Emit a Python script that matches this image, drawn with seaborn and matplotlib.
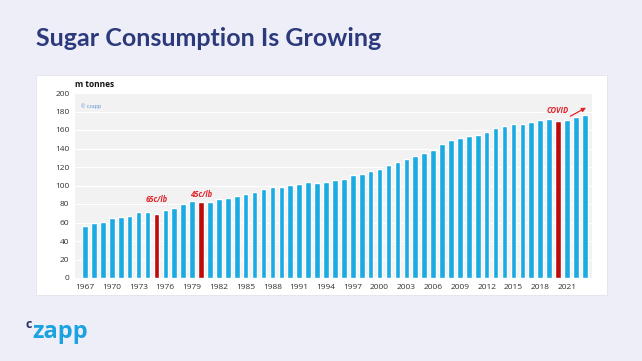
import matplotlib
matplotlib.use("Agg")
import matplotlib.pyplot as plt
import pandas as pd
import seaborn as sns

# World sugar consumption, million tonnes
years = list(range(1967, 2024))
consumption = [56.4, 59.0, 60.8, 64.4, 66.2, 67.3, 70.9, 71.6, 68.7, 73.4,
               76.0, 79.6, 83.2, 82.1, 82.1, 85.4, 86.4, 89.0, 90.8, 92.6,
               96.6, 98.7, 98.7, 100.5, 101.6, 103.4, 103.1, 104.2, 105.6, 106.7,
               111.4, 112.9, 116.1, 117.9, 121.9, 125.9, 128.8, 132.0, 135.3, 138.9,
               145.0, 149.4, 151.2, 153.0, 154.4, 157.3, 162.0, 164.2, 166.7, 166.7,
               168.5, 170.4, 172.2, 169.6, 171.1, 173.6, 176.5]
event_years = [1975, 1980, 2020]
event_labels = ["65c/lb", "45c/lb", "COVID"]
yticks = list(range(0, 201, 20))
xtick_years = list(range(1967, 2024, 3))

BLUE = "#1AABE2"
RED = "#BE0A0A"
NAVY = "#2C3A7C"
BG = "#EEEEF9"

sns.set_style("whitegrid")
plt.rcParams["font.family"] = ["Open Sans", "DejaVu Sans"]

df = pd.DataFrame({"year": [str(y) for y in years], "value": consumption})
df["kind"] = ["event" if y in event_years else "normal" for y in years]

fig = plt.figure(figsize=(6.42, 3.61), dpi=100, facecolor=BG)

# white card behind the chart
card = fig.add_axes([36 / 642, 1 - 295 / 361, 571 / 642, 220 / 361], zorder=-5)
card.set_facecolor("white")
card.set_xticks([])
card.set_yticks([])
card.grid(False)
for s in card.spines.values():
    s.set_color("#E4E4EC")
    s.set_linewidth(0.6)

ax = fig.add_axes([75 / 642, 1 - 278 / 361, 517 / 642, 185 / 361], zorder=1)
ax.set_facecolor("#F2F2F2")
sns.barplot(data=df, x="year", y="value", hue="kind",
            palette={"normal": BLUE, "event": RED}, dodge=False,
            width=0.63, saturation=1, legend=False, ax=ax, zorder=3)

ax.set_ylim(0, 200)
ax.set_xlim(-1.12, len(years) - 0.2)
ax.set_yticks(yticks)
ax.set_xticks([years.index(y) for y in xtick_years])
ax.set_xticklabels([str(y) for y in xtick_years])
ax.tick_params(axis="both", labelsize=6, colors="#333333", length=0, pad=4)
ax.grid(axis="y", color="white", linewidth=0.8, zorder=0)
ax.grid(axis="x", visible=False)
ax.set_xlabel("")
ax.set_ylabel("")
for s in ax.spines.values():
    s.set_visible(False)

# event annotations
offsets = [16, 8.5, 12]
for yr, lab, off in zip(event_years, event_labels, offsets):
    i = years.index(yr)
    ax.text(i, consumption[i] + off, lab, color="#E0242C", fontsize=5.5,
            fontweight="bold", fontstyle="italic", ha="center", va="center")
i_cov = years.index(2020)
ax.annotate("", xy=(i_cov + 3.4, 185.5), xytext=(i_cov + 1.1, 173.5),
            arrowprops=dict(arrowstyle="-|>", color="#E0242C", lw=0.9,
                            mutation_scale=6))

ax.text(0, 1.02, "m tonnes", transform=ax.transAxes, fontsize=6,
        fontweight="bold", color="#111111", ha="left", va="bottom")
ax.text(0.012, 0.93, "\u00a9 czapp", transform=ax.transAxes, fontsize=3.8,
        color="#5A8FD0", ha="left", va="center")

fig.text(36 / 642, 1 - 38 / 361, "Sugar Consumption Is Growing", fontsize=18,
         fontweight="bold", color=NAVY, family=["Lato", "DejaVu Sans"],
         ha="left", va="center")

# czapp logo
fig.text(26 / 642, 1 - 328 / 361, "c", fontsize=9, fontweight="bold",
         color="#2A2F6E", ha="left", va="baseline")
fig.text(32 / 642, 1 - 338 / 361, "zapp", fontsize=17, fontweight="bold",
         color="#1BA3E0", ha="left", va="baseline")

fig.savefig("out.png", dpi=100, facecolor=BG)
